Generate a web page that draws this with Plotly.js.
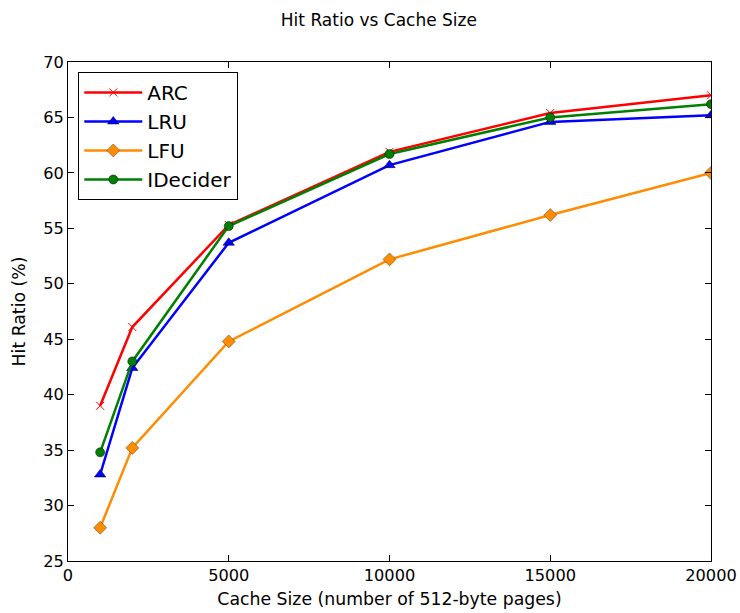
<!DOCTYPE html>
<html>
<head>
<meta charset="utf-8">
<script src="https://cdn.plot.ly/plotly-3.0.1.min.js"></script>
<style>html,body{margin:0;padding:0;background:#fff}#chart{width:740px;height:613px}</style>
</head>
<body>
<div id="chart"></div>
<script>
const cacheSizes = [1000, 2000, 5000, 10000, 15000, 20000];
const arc = [39.0, 46.1, 55.3, 61.9, 65.4, 67.0];
const lru = [32.8, 42.4, 53.7, 60.7, 64.6, 65.2];
const lfu = [28.0, 35.2, 44.8, 52.2, 56.2, 60.0];
const idecider = [34.8, 43.0, 55.2, 61.7, 65.0, 66.2];
const xTicks = [0, 5000, 10000, 15000, 20000];
const yTicks = [25, 30, 35, 40, 45, 50, 55, 60, 65, 70];

const font = 'DejaVu Sans, sans-serif';
const traces = [
  {x: cacheSizes, y: arc, name: 'ARC', legendgroup: 'a', mode: 'lines+markers',
   line: {color: '#ff0000', width: 2.5},
   marker: {symbol: 'x-thin', size: 8, color: '#ff0000', line: {color: '#ff0000', width: 1}}},
  {x: cacheSizes, y: lru, name: 'LRU', legendgroup: 'b', mode: 'lines+markers',
   line: {color: '#0000ff', width: 2.5},
   marker: {symbol: 'triangle-up', size: 10, color: '#0000ff', line: {color: '#000', width: 0.5}}},
  {x: cacheSizes, y: lfu, name: 'LFU', legendgroup: 'c', mode: 'lines+markers',
   line: {color: '#ff8c00', width: 2.5},
   marker: {symbol: 'diamond', size: 10, color: '#ff8c00', line: {color: '#555', width: 0.6}}},
  {x: cacheSizes, y: idecider, name: 'IDecider', legendgroup: 'd', mode: 'lines+markers',
   line: {color: '#008000', width: 2.5},
   marker: {symbol: 'circle', size: 9, color: '#008000', line: {color: '#000', width: 0.5}}}
];

const layout = {
  width: 740, height: 613,
  margin: {l: 68, r: 29, t: 62, b: 52},
  paper_bgcolor: '#fff', plot_bgcolor: '#fff',
  font: {family: font, color: '#000', size: 16},
  title: {text: 'Hit Ratio vs Cache Size', font: {family: font, size: 17}, x: 0.512, xanchor: 'center', y: 0.968, yanchor: 'middle'},
  xaxis: {
    range: [0, 20000], tickvals: xTicks, ticktext: xTicks.map(String),
    ticks: 'inside', ticklen: 6, tickwidth: 1, tickcolor: '#000',
    showline: true, linecolor: '#000', linewidth: 1, mirror: 'ticks',
    showgrid: false, zeroline: false,
    tickfont: {family: font, size: 16.2},
    title: {text: 'Cache Size (number of 512-byte pages)', font: {family: font, size: 17.3}, standoff: 8}
  },
  yaxis: {
    range: [25, 70], tickvals: yTicks, ticktext: yTicks.map(String),
    ticks: 'inside', ticklen: 6, tickwidth: 1, tickcolor: '#000',
    showline: true, linecolor: '#000', linewidth: 1, mirror: 'ticks',
    showgrid: false, zeroline: false,
    tickfont: {family: font, size: 16.2},
    title: {text: 'Hit Ratio (%)', font: {family: font, size: 17.3}, standoff: 13}
  },
  legend: {
    x: 0.016, y: 0.98, xanchor: 'left', yanchor: 'top',
    bgcolor: '#fff', bordercolor: '#000', borderwidth: 1,
    font: {family: font, size: 20}, tracegroupgap: 0, itemwidth: 58
  },
  showlegend: true
};

Plotly.newPlot('chart', traces, layout, {displayModeBar: false, staticPlot: true});
</script>
</body>
</html>
